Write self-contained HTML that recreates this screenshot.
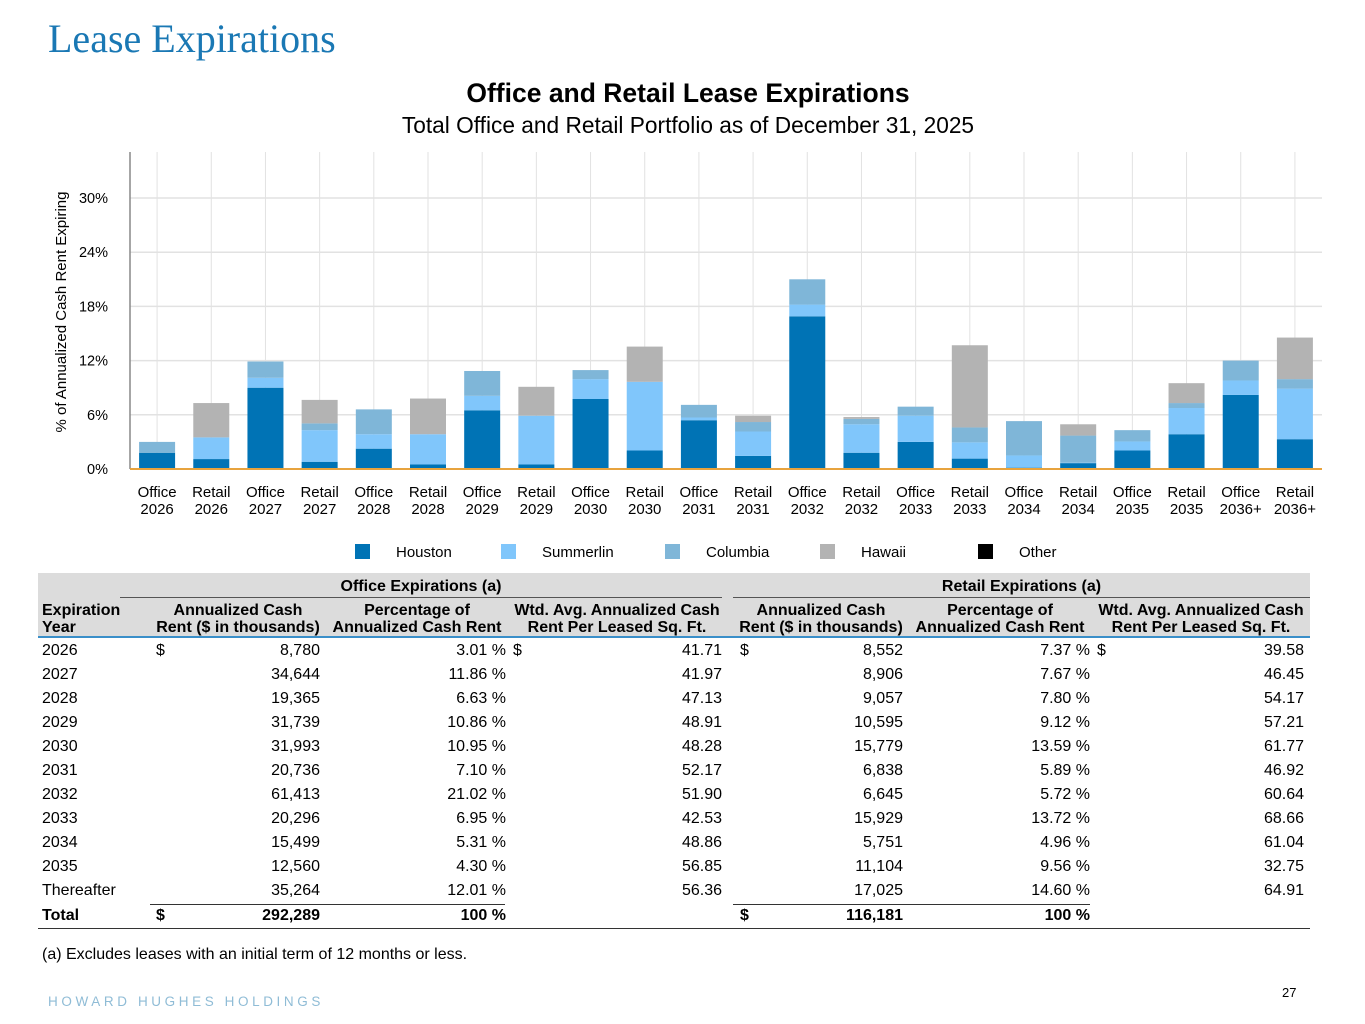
<!DOCTYPE html>
<html><head><meta charset="utf-8">
<style>
body{margin:0;width:1365px;height:1024px;background:#fff;position:relative;overflow:hidden;font-family:"Liberation Sans",sans-serif;color:#000}
.a{position:absolute;white-space:nowrap}
.t{font-size:16px;line-height:17px}
.r{text-align:right}
.c{text-align:center}
.b{font-weight:bold}
</style></head><body>
<div class="a" style="left:48px;top:15px;font-family:'Liberation Serif',serif;font-size:40px;color:#1a78b4">Lease Expirations</div>
<svg class="a" style="left:0;top:0" width="1365" height="570" id="chart"></svg>

<div class="a" style="left:38px;top:573px;width:1272px;height:64px;background:#dcdcdc"></div>
<div class="a" style="left:38px;top:636px;width:1272px;height:2px;background:#3a8fc9"></div>
<div class="a" style="left:120px;top:597px;width:602px;height:1px;background:#555"></div>
<div class="a" style="left:733px;top:597px;width:577px;height:1px;background:#555"></div>
<div class="a t b c" style="left:120px;top:578px;width:602px">Office Expirations (a)</div>
<div class="a t b c" style="left:733px;top:578px;width:577px">Retail Expirations (a)</div>
<div class="a t b" style="left:42px;top:602px">Expiration<br>Year</div>
<div id="tbl"></div>
<div class="a" style="left:150px;top:904px;width:355px;height:1px;background:#333"></div>
<div class="a" style="left:733px;top:904px;width:357px;height:1px;background:#333"></div>
<div class="a" style="left:38px;top:928px;width:1272px;height:1px;background:#333"></div>
<div class="a t" style="left:42px;top:946px">(a) Excludes leases with an initial term of 12 months or less.</div>
<div class="a" style="left:48px;top:994px;font-size:13.5px;letter-spacing:3.6px;color:#8fbcd6">HOWARD HUGHES HOLDINGS</div>
<div class="a" style="left:1282px;top:985px;font-size:13px">27</div>

<script>
const categories=["Office 2026","Retail 2026","Office 2027","Retail 2027","Office 2028","Retail 2028","Office 2029","Retail 2029","Office 2030","Retail 2030","Office 2031","Retail 2031","Office 2032","Retail 2032","Office 2033","Retail 2033","Office 2034","Retail 2034","Office 2035","Retail 2035","Office 2036+","Retail 2036+"];
const houston=[1.8,1.1,9.0,0.8,2.25,0.5,6.5,0.5,7.75,2.05,5.4,1.45,16.9,1.8,3.0,1.15,0.15,0.65,2.05,3.85,8.2,3.3];
const summerlin=[0,2.4,1.1,3.5,1.6,3.35,1.6,5.4,2.2,7.6,0.3,2.7,1.3,3.15,2.9,1.8,1.35,0.05,1.0,2.9,1.6,5.6];
const columbia=[1.2,0,1.8,0.75,2.75,0,2.75,0,1.0,0,1.4,1.05,2.8,0.6,1.0,1.65,3.8,3.0,1.25,0.55,2.2,1.05];
const hawaii=[0,3.8,0,2.6,0,3.95,0,3.2,0,3.9,0,0.7,0,0.2,0,9.1,0,1.25,0,2.2,0,4.6];
const other=[0,0,0,0,0,0,0,0,0,0,0,0,0,0,0,0,0,0,0,0,0,0];
const yTicks=[0,6,12,18,24,30];
const seriesNames=["Houston","Summerlin","Columbia","Hawaii","Other"];
const seriesColors=["#0073b5","#80c6fb","#7fb6d8","#b3b3b3","#000000"];

const NS="http://www.w3.org/2000/svg";
const svg=document.getElementById('chart');
const x0=130,x1=1322,yBase=469,pxPer=271/30;
const step=(x1-x0)/categories.length;
const xc=i=>x0+step*(i+0.5);
const y=v=>yBase-v*pxPer;
function mk(tag,attrs,parent){const e=document.createElementNS(NS,tag);for(const k in attrs)e.setAttribute(k,attrs[k]);(parent||svg).appendChild(e);return e;}
let e;
e=mk('text',{x:688,y:102,'text-anchor':'middle','font-size':26.5,'font-weight':'bold','font-family':'Liberation Sans'});e.textContent='Office and Retail Lease Expirations';


e=mk('text',{x:688,y:133,'text-anchor':'middle','font-size':22.7,'font-family':'Liberation Sans'});e.textContent='Total Office and Retail Portfolio as of December 31, 2025';


for(let i=1;i<=categories.length;i++){
  e=mk('line',{x1:x0+step*i-step/2,x2:x0+step*i-step/2,y1:152,y2:yBase,stroke:'#e2e2e2','stroke-width':1});
  
  
}
yTicks.forEach(t=>{
  if(t>0){e=mk('line',{x1:x0,x2:x1,y1:y(t),y2:y(t),stroke:'#e2e2e2','stroke-width':1.5});
  
  }
  e=mk('text',{x:108,y:y(t)+5,'text-anchor':'end','font-size':14.5,'font-family':'Liberation Sans'});e.textContent=t+'%';
  
  
});
e=mk('line',{x1:x0,x2:x0,y1:152,y2:yBase,stroke:'#888','stroke-width':1.5});


e=mk('text',{transform:'translate(66,312) rotate(-90)','text-anchor':'middle','font-size':15,'font-family':'Liberation Sans'});e.textContent='% of Annualized Cash Rent Expiring';


const series=[houston,summerlin,columbia,hawaii,other];
const bw=36;
categories.forEach((c,i)=>{
  let acc=0;
  series.forEach((s,k)=>{
    const v=s[i];if(v<=0)return;
    const r=mk('rect',{x:xc(i)-bw/2,y:y(acc+v),width:bw,height:v*pxPer,fill:seriesColors[k]});
    
    
    acc+=v;
  });
  const [a,b]=c.split(' ');
  const t=mk('text',{x:xc(i),y:497,'text-anchor':'middle','font-size':15,'font-family':'Liberation Sans'});
  
  
  mk('tspan',{x:xc(i),dy:0},t).textContent=a;
  mk('tspan',{x:xc(i),dy:17},t).textContent=b;
});
e=mk('line',{x1:x0,x2:x1,y1:yBase,y2:yBase,stroke:'#e8a33d','stroke-width':2});


const legX=[355,501,665,820,978];
seriesNames.forEach((n,k)=>{
  const g=mk('g',{});
  
  
  mk('rect',{x:legX[k],y:544,width:15,height:15,fill:seriesColors[k]},g);
  const t=mk('text',{x:legX[k]+41,y:557,'font-size':15,'font-family':'Liberation Sans'},g);t.textContent=n;
});

const years=["2026","2027","2028","2029","2030","2031","2032","2033","2034","2035","Thereafter"];
const offRent=["8,780","34,644","19,365","31,739","31,993","20,736","61,413","20,296","15,499","12,560","35,264"];
const offPct=["3.01","11.86","6.63","10.86","10.95","7.10","21.02","6.95","5.31","4.30","12.01"];
const offWtd=["41.71","41.97","47.13","48.91","48.28","52.17","51.90","42.53","48.86","56.85","56.36"];
const retRent=["8,552","8,906","9,057","10,595","15,779","6,838","6,645","15,929","5,751","11,104","17,025"];
const retPct=["7.37","7.67","7.80","9.12","13.59","5.89","5.72","13.72","4.96","9.56","14.60"];
const retWtd=["39.58","46.45","54.17","57.21","61.77","46.92","60.64","68.66","61.04","32.75","64.91"];
const tbl=document.getElementById('tbl');
function cell(txt,left,top,opt){const d=document.createElement('div');d.className='a t'+(opt.cls||'');d.style.top=top+'px';
 if(opt.right!==undefined){d.style.left=(opt.right-200)+'px';d.style.width='200px';d.style.textAlign='right';}else d.style.left=left+'px';
 d.innerHTML=txt;
 
 
 tbl.appendChild(d);}
const heads=[["Annualized Cash<br>Rent ($ in thousands)",238],["Percentage of<br>Annualized Cash Rent",417],["Wtd. Avg. Annualized Cash<br>Rent Per Leased Sq. Ft.",617],["Annualized Cash<br>Rent ($ in thousands)",821],["Percentage of<br>Annualized Cash Rent",1000],["Wtd. Avg. Annualized Cash<br>Rent Per Leased Sq. Ft.",1201]];
heads.forEach(h=>{const d=document.createElement('div');d.className='a t b';d.style.left=(h[1]-130)+'px';d.style.width='260px';d.style.textAlign='center';d.style.top='602px';d.innerHTML=h[0];
 
 
 tbl.appendChild(d);});
years.forEach((yr,i)=>{
  const top=642+24*i;
  cell(yr,42,top,{name:'year-cell'});
  if(i===0){cell('$',156,top,{name:'dollar-sign'});cell('$',513,top,{name:'dollar-sign'});cell('$',740,top,{name:'dollar-sign'});cell('$',1097,top,{name:'dollar-sign'});}
  cell(offRent[i],0,top,{right:320,name:'office-rent-cell'});
  cell(offPct[i]+' %',0,top,{right:506,name:'office-pct-cell'});
  cell(offWtd[i],0,top,{right:722,name:'office-wtd-cell'});
  cell(retRent[i],0,top,{right:903,name:'retail-rent-cell'});
  cell(retPct[i]+' %',0,top,{right:1090,name:'retail-pct-cell'});
  cell(retWtd[i],0,top,{right:1304,name:'retail-wtd-cell'});
});
const tt=907;
cell('Total',42,tt,{cls:' b',name:'total-label'});
cell('$',156,tt,{cls:' b',name:'dollar-sign'});
cell('292,289',0,tt,{cls:' b',right:320,name:'office-total-rent'});
cell('100 %',0,tt,{cls:' b',right:506,name:'office-total-pct'});
cell('$',740,tt,{cls:' b',name:'dollar-sign'});
cell('116,181',0,tt,{cls:' b',right:903,name:'retail-total-rent'});
cell('100 %',0,tt,{cls:' b',right:1090,name:'retail-total-pct'});
</script>
</body></html>
